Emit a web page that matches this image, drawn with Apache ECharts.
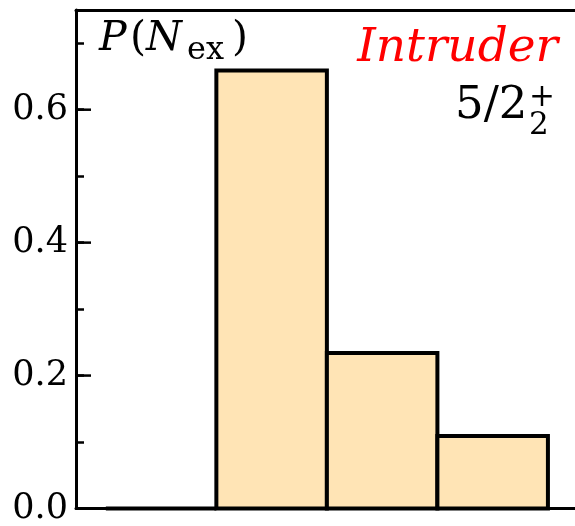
<!DOCTYPE html>
<html>
<head>
<meta charset="utf-8">
<script src="https://cdn.jsdelivr.net/npm/echarts@6/dist/echarts.min.js"></script>
<style>
html,body{margin:0;padding:0;background:#fff;}
#chart{width:575px;height:526px;}
</style>
</head>
<body>
<div id="chart"></div>
<script>
// Data
const nEx = [0, 1, 2, 3];
const prob = [0.0, 0.659, 0.234, 0.109];
const yTickValues = [0.0, 0.2, 0.4, 0.6];

const SERIF = '"DejaVu Serif", serif';
const X_MIN = -0.77, X_MAX = 3.745;
const chart = echarts.init(document.getElementById('chart'), null, {renderer: 'canvas'});

const barData = nEx.map((n, i) => [n, prob[i]]);

const textGraphics = [
  {type: 'text', left: 99, top: 19, z: 10, style: {text: 'P', font: 'italic 41px ' + SERIF, fill: '#000'}},
  {type: 'text', left: 130, top: 19, z: 10, style: {text: '(', font: '41px ' + SERIF, fill: '#000'}},
  {type: 'text', left: 146, top: 19, z: 10, style: {text: 'N', font: 'italic 41px ' + SERIF, fill: '#000'}},
  {type: 'text', left: 187, top: 35, z: 10, style: {text: 'ex', font: '32px ' + SERIF, fill: '#000'}},
  {type: 'text', left: 232, top: 19, z: 10, style: {text: ')', font: '41px ' + SERIF, fill: '#000'}},
  {type: 'text', right: 17, top: 25, z: 10, style: {text: 'Intruder', font: 'italic 47px ' + SERIF, fill: '#ff0000'}},
  {type: 'text', left: 455, top: 84, z: 10, style: {text: '5/2', font: '45px ' + SERIF, fill: '#000'}},
  {type: 'text', left: 529, top: 110, z: 10, style: {text: '2', font: '31px ' + SERIF, fill: '#000'}},
  {type: 'text', left: 529, top: 82, z: 10, style: {text: '+', font: '31px ' + SERIF, fill: '#000'}}
];

const option = {
  animation: false,
  backgroundColor: '#ffffff',
  grid: {left: 76, top: 10, right: 0, bottom: 14, containLabel: false},
  xAxis: [
    {type: 'value', position: 'bottom', min: X_MIN, max: X_MAX,
     axisLine: {show: true, onZero: false, lineStyle: {color: '#000', width: 3}},
     axisTick: {show: false}, axisLabel: {show: false}, splitLine: {show: false}},
    {type: 'value', position: 'top', min: X_MIN, max: X_MAX,
     axisLine: {show: true, onZero: false, lineStyle: {color: '#000', width: 3}},
     axisTick: {show: false}, axisLabel: {show: false}, splitLine: {show: false}}
  ],
  yAxis: [
    {type: 'value', position: 'left', min: 0, max: 0.75, interval: 0.1,
     axisLine: {show: true, onZero: false, lineStyle: {color: '#000', width: 3}},
     axisTick: {show: true, inside: true, length: 8, lineStyle: {color: '#000', width: 2.5}},
     axisLabel: {show: true, margin: 8, color: '#000', fontSize: 35, fontFamily: SERIF,
       formatter: function (v) {
         for (const t of yTickValues) { if (Math.abs(v - t) < 1e-6) return t.toFixed(1); }
         return '';
       }},
     splitLine: {show: false}}
  ],
  series: [
    {
      type: 'custom',
      xAxisIndex: 0, yAxisIndex: 0,
      z: 5,
      data: barData,
      renderItem: function (params, api) {
        const x = api.value(0), y = api.value(1);
        const p1 = api.coord([x - 0.5, y]);
        const p2 = api.coord([x + 0.5, 0]);
        return {
          type: 'rect',
          shape: {x: p1[0], y: p1[1], width: p2[0] - p1[0], height: p2[1] - p1[1]},
          style: {fill: '#FFE4B5', stroke: '#000', lineWidth: 4}
        };
      }
    }
  ],
  graphic: textGraphics
};
chart.setOption(option);

// longer major ticks at the labelled values, positioned through the axis scales
const tickLines = yTickValues.map(function (v, i) {
  const p = chart.convertToPixel({xAxisIndex: 0, yAxisIndex: 0}, [X_MIN, v]);
  return {
    type: 'line', id: 'majorTick' + i, z: 100, silent: true,
    shape: {x1: p[0], y1: p[1], x2: p[0] + 15, y2: p[1]},
    style: {stroke: '#000', lineWidth: 2.5}
  };
});
chart.setOption({graphic: textGraphics.concat(tickLines)});
</script>
</body>
</html>
